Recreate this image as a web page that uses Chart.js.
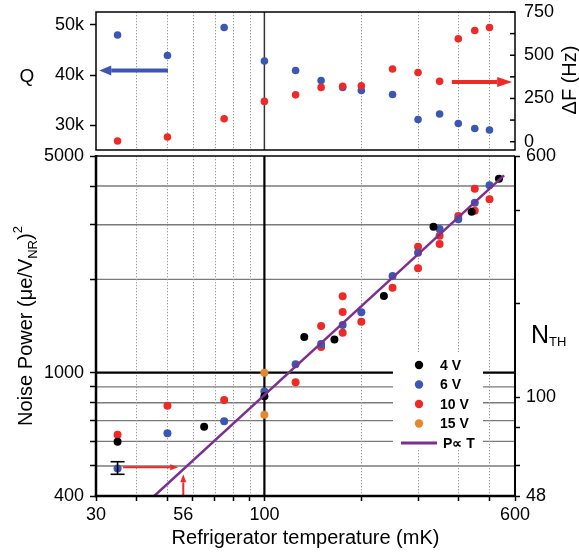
<!DOCTYPE html>
<html>
<head>
<meta charset="utf-8">
<script src="https://cdn.jsdelivr.net/npm/chart.js@4.4.0/dist/chart.umd.min.js"></script>
<style>
html,body{margin:0;padding:0;background:#fff;}
#wrap{position:relative;width:579px;height:552px;overflow:hidden;}
canvas{position:absolute;left:0;top:0;}
</style>
</head>
<body>
<div id="wrap">
<canvas id="bot" width="579" height="552"></canvas>
<canvas id="top" width="579" height="160"></canvas>
</div>
<script>
// ---------------- data ----------------
// top panel: quality factor Q (left axis) and frequency shift ΔF (right axis)
const tempQ    = [35, 50, 75, 100, 125, 150, 175, 200, 250, 300, 350, 400, 450, 500];
const qualityQ = [48000, 43900, 49500, 42800, 40900, 38900, 37500, 36900, 36100, 31100, 32200, 30300, 29300, 29000];
const deltaF   = [4, 27, 133, 233, 271, 314, 321, 323, 420, 400, 349, 595, 643, 660];

// bottom panel: noise power vs refrigerator temperature
const temp4V  = [35, 65, 100, 133, 165, 235, 335, 440, 535];
const power4V = [599, 669, 839, 1303, 1280, 1766, 2957, 3305, 4224];
const temp6V  = [35, 50, 75, 100, 125, 150, 175, 200, 250, 300, 350, 400, 450, 500];
const power6V = [491, 637, 697, 869, 1064, 1237, 1424, 1565, 2050, 2437, 2905, 3125, 3533, 4021];
const temp10V  = [35, 50, 75, 125, 150, 150, 175, 175, 175, 200, 250, 300, 300, 350, 350, 400, 450, 450, 500];
const power10V = [630, 782, 816, 931, 1210, 1414, 1346, 1569, 1764, 1460, 1880, 2548, 2170, 2765, 2600, 3200, 3330, 3920, 3624];
const temp15V  = [100, 100];
const power15V = [1000, 732];
const fitT = [45.5, 555];
const fitP = [400, 4330];
const errT = [35];
const errLow = [470];
const errHigh = [516];

// annotation arrows (data coordinates)
const qArrowT = [50.2, 30.7];   const qArrowQ = [40900, 40900];
const fArrowT = [382, 588];     const fArrowF = [345, 345];
const hArrowT = [36.4, 54];     const hArrowP = [495, 495];
const vArrowT = [56, 56];       const vArrowP = [400, 470];

// axes
const xTicks  = [30, 40, 50, 56, 60, 70, 80, 90, 100, 200, 300, 400, 500, 600];
const xLabels = [30, 56, 100, 600];
const xNoMark = [56];
const pTicks  = [400, 500, 600, 700, 800, 900, 1000, 2000, 3000, 4000, 5000];
const pLabels = [400, 1000, 5000];
const nTicks  = [48, 60, 80, 100, 200, 400, 600];
const nLabels = [48, 100, 600];
const qTicks  = [30000, 40000, 50000];
const fTicks  = [0, 125, 250, 375, 500, 625, 750];
const fLabels = [0, 250, 500, 750];
const gridTDotted = [40, 50, 60, 70, 80, 90, 200, 300, 400, 500];
const gridTMain   = [100];
const gridPLines  = [500, 600, 700, 800, 900, 2000, 3000, 4000];
const gridPMain   = [1000];

// ---------------- styles ----------------
const FONT = '"Liberation Sans", Arial, Helvetica, sans-serif';
const BLUE = '#3b57b3', RED = '#ee2a26', BLACK = '#000000', ORANGE = '#e6872f', PURPLE = '#7d2f90';

Chart.defaults.font.family = FONT;
Chart.defaults.color = '#000';
Chart.defaults.animation = false;

const pts = (xs, ys) => xs.map((x, i) => ({x: x, y: ys[i]}));
function seg(ctx, x1, y1, x2, y2) { ctx.beginPath(); ctx.moveTo(x1, y1); ctx.lineTo(x2, y2); ctx.stroke(); }
function noPad(s) { s.paddingTop = 0; s.paddingBottom = 0; s.paddingLeft = 0; s.paddingRight = 0; }
function arrow(ctx, x1, y1, x2, y2, lw, headLen, headHalf, color) {
  const ang = Math.atan2(y2 - y1, x2 - x1);
  const bx = x2 - headLen * Math.cos(ang), by = y2 - headLen * Math.sin(ang);
  ctx.save();
  ctx.strokeStyle = color; ctx.fillStyle = color; ctx.lineWidth = lw; ctx.lineCap = 'butt';
  seg(ctx, x1, y1, bx, by);
  ctx.beginPath();
  ctx.moveTo(x2, y2);
  ctx.lineTo(bx - headHalf * Math.sin(ang), by + headHalf * Math.cos(ang));
  ctx.lineTo(bx + headHalf * Math.sin(ang), by - headHalf * Math.cos(ang));
  ctx.closePath(); ctx.fill();
  ctx.restore();
}
function rotatedText(ctx, bx, cy, parts) {
  ctx.save();
  ctx.translate(bx, cy); ctx.rotate(-Math.PI / 2);
  ctx.textAlign = 'left'; ctx.textBaseline = 'alphabetic'; ctx.fillStyle = '#000';
  let total = 0;
  parts.forEach(p => { ctx.font = p.size + 'px ' + FONT; p.w = ctx.measureText(p.text).width; total += p.w; });
  let x = -total / 2;
  parts.forEach(p => { ctx.font = p.size + 'px ' + FONT; ctx.fillText(p.text, x, p.dy); x += p.w; });
  ctx.restore();
}
function vGrid(ctx, a, xScale) {
  ctx.save();
  ctx.strokeStyle = '#9a9a9a'; ctx.lineWidth = 1; ctx.setLineDash([1.3, 1.7]);
  gridTDotted.forEach(t => { const px = Math.round(xScale.getPixelForValue(t)) + 0.5; seg(ctx, px, a.top, px, a.bottom); });
  ctx.restore();
}

// ---------------- top panel ----------------
const topDecor = {
  id: 'topDecor',
  beforeDatasetsDraw(chart) {
    const {ctx, chartArea: a, scales: {x}} = chart;
    vGrid(ctx, a, x);
    ctx.save();
    ctx.strokeStyle = '#333'; ctx.lineWidth = 1.5;
    gridTMain.forEach(t => { const px = x.getPixelForValue(t); seg(ctx, px, a.top, px, a.bottom); });
    ctx.restore();
  },
  afterDatasetsDraw(chart) {
    const {ctx, chartArea: a, scales: {x, yQ, yF}} = chart;
    arrow(ctx, x.getPixelForValue(qArrowT[0]), yQ.getPixelForValue(qArrowQ[0]),
               x.getPixelForValue(qArrowT[1]), yQ.getPixelForValue(qArrowQ[1]), 4, 12, 5, BLUE);
    arrow(ctx, x.getPixelForValue(fArrowT[0]), yF.getPixelForValue(fArrowF[0]),
               x.getPixelForValue(fArrowT[1]), yF.getPixelForValue(fArrowF[1]), 4, 15, 5, RED);
    ctx.save();
    ctx.strokeStyle = '#000'; ctx.lineWidth = 1.5;
    fTicks.forEach(v => { const py = yF.getPixelForValue(v); seg(ctx, a.right - 5, py, a.right, py); });
    ctx.strokeRect(a.left, a.top, a.right - a.left, a.bottom - a.top);
    ctx.fillStyle = '#000'; ctx.font = '19px ' + FONT; ctx.textAlign = 'center'; ctx.textBaseline = 'alphabetic';
    ctx.fillText('Q', 27, 82);
    ctx.restore();
    rotatedText(ctx, 576, 80, [{text: 'ΔF (Hz)', size: 20, dy: 0}]);
  }
};

new Chart(document.getElementById('top'), {
  type: 'scatter',
  data: {
    datasets: [
      {label: 'ΔF', data: pts(tempQ, deltaF), yAxisID: 'yF', backgroundColor: RED, borderWidth: 0, pointRadius: 3.8, order: 0},
      {label: 'Q', data: pts(tempQ, qualityQ), yAxisID: 'yQ', backgroundColor: BLUE, borderWidth: 0, pointRadius: 3.8, order: 1}
    ]
  },
  options: {
    responsive: false, animation: false,
    layout: {padding: {top: 12, bottom: 10, left: 0, right: 0}},
    plugins: {legend: {display: false}, tooltip: {enabled: false}},
    scales: {
      x: {type: 'logarithmic', min: 30, max: 600, display: false},
      yQ: {
        type: 'linear', position: 'left', min: 25000, max: 52600,
        afterBuildTicks: s => { s.ticks = qTicks.map(v => ({value: v})); },
        afterFit: s => { s.width = 96; noPad(s); },
        ticks: {autoSkip: false, padding: 6, font: {size: 18}, color: '#000', callback: v => (v / 1000) + 'k'},
        grid: {drawOnChartArea: false, drawTicks: true, tickLength: 6, tickWidth: 1.5, tickColor: '#000'},
        border: {display: false}
      },
      yF: {
        type: 'linear', position: 'right', min: -48, max: 750,
        afterBuildTicks: s => { s.ticks = fTicks.map(v => ({value: v})); },
        afterFit: s => { s.width = 64; noPad(s); },
        ticks: {autoSkip: false, padding: 9, font: {size: 18}, color: '#000', callback: v => fLabels.includes(v) ? String(v) : ''},
        grid: {drawOnChartArea: false, drawTicks: false},
        border: {display: false}
      }
    }
  },
  plugins: [topDecor]
});

// ---------------- bottom panel ----------------
const botDecor = {
  id: 'botDecor',
  beforeDatasetsDraw(chart) {
    const {ctx, chartArea: a, scales: {x, y}} = chart;
    ctx.save();
    ctx.strokeStyle = '#7a7a7a'; ctx.lineWidth = 1.4;
    gridPLines.forEach(p => { const py = y.getPixelForValue(p); seg(ctx, a.left, py, a.right, py); });
    ctx.restore();
    vGrid(ctx, a, x);
    ctx.save();
    ctx.strokeStyle = '#000'; ctx.lineWidth = 2.2;
    gridPMain.forEach(p => { const py = y.getPixelForValue(p); seg(ctx, a.left, py, a.right, py); });
    gridTMain.forEach(t => { const px = x.getPixelForValue(t); seg(ctx, px, a.top, px, a.bottom); });
    // legend background
    ctx.fillStyle = '#fff';
    ctx.fillRect(a.right - 122, 352, 90, 96);
    ctx.restore();
  },
  afterDatasetsDraw(chart) {
    const {ctx, chartArea: a, scales: {x, y}} = chart;
    ctx.save();
    // error bar
    ctx.strokeStyle = '#000'; ctx.lineWidth = 1.6;
    errT.forEach((t, i) => {
      const px = x.getPixelForValue(t), y1 = y.getPixelForValue(errLow[i]), y2 = y.getPixelForValue(errHigh[i]);
      seg(ctx, px, y1, px, y2); seg(ctx, px - 7, y1, px + 7, y1); seg(ctx, px - 7, y2, px + 7, y2);
    });
    ctx.restore();
    arrow(ctx, x.getPixelForValue(hArrowT[0]), y.getPixelForValue(hArrowP[0]),
               x.getPixelForValue(hArrowT[1]), y.getPixelForValue(hArrowP[1]), 2, 8, 3, RED);
    arrow(ctx, x.getPixelForValue(vArrowT[0]), y.getPixelForValue(vArrowP[0]),
               x.getPixelForValue(vArrowT[1]), y.getPixelForValue(vArrowP[1]), 2, 8, 3, RED);
    // legend
    ctx.save();
    const lx = a.right - 96, tx = a.right - 75;
    chart.data.datasets.forEach((ds, i) => {
      const ly = 365 + i * 19.5;
      if (ds.showLine) {
        ctx.strokeStyle = ds.borderColor; ctx.lineWidth = 3;
        seg(ctx, lx - 18, ly, lx + 18, ly);
      } else {
        ctx.fillStyle = ds.backgroundColor;
        ctx.beginPath(); ctx.arc(lx, ly, 4.2, 0, Math.PI * 2); ctx.fill();
      }
      ctx.fillStyle = '#000'; ctx.font = 'bold 14px ' + FONT; ctx.textAlign = 'left'; ctx.textBaseline = 'middle';
      ctx.fillText(ds.label, ds.showLine ? tx + 3 : tx, ly + 1);
    });
    // frame
    ctx.strokeStyle = '#000'; ctx.lineWidth = 1.6;
    seg(ctx, a.left, a.top, a.right, a.top);
    ctx.lineWidth = 2;
    seg(ctx, a.right, a.top, a.right, a.bottom);
    ctx.lineWidth = 2.5;
    seg(ctx, a.left, a.top - 1, a.left, a.bottom + 1.2);
    seg(ctx, a.left - 1.2, a.bottom, a.right + 1, a.bottom);
    // titles
    ctx.fillStyle = '#000'; ctx.font = '20px ' + FONT; ctx.textAlign = 'center'; ctx.textBaseline = 'alphabetic';
    ctx.fillText('Refrigerator temperature (mK)', (a.left + a.right) / 2, 544);
    ctx.textAlign = 'left';
    ctx.font = '25px ' + FONT; ctx.fillText('N', 531, 343);
    ctx.font = '13px ' + FONT; ctx.fillText('TH', 549, 346);
    ctx.restore();
    rotatedText(ctx, 32, (a.top + a.bottom) / 2, [
      {text: 'Noise Power (μe/V', size: 20, dy: 0},
      {text: 'NR', size: 13, dy: 5},
      {text: ')', size: 20, dy: 0},
      {text: '2', size: 13, dy: -10}
    ]);
  }
};

new Chart(document.getElementById('bot'), {
  type: 'scatter',
  data: {
    datasets: [
      {label: '4 V', data: pts(temp4V, power4V), yAxisID: 'y', backgroundColor: BLACK, borderWidth: 0, pointRadius: 4, order: 2},
      {label: '6 V', data: pts(temp6V, power6V), yAxisID: 'y', backgroundColor: BLUE, borderWidth: 0, pointRadius: 4, order: 3},
      {label: '10 V', data: pts(temp10V, power10V), yAxisID: 'y', backgroundColor: RED, borderWidth: 0, pointRadius: 4, order: 4},
      {label: '15 V', data: pts(temp15V, power15V), yAxisID: 'y', backgroundColor: ORANGE, borderWidth: 0, pointRadius: 4, order: 1},
      {label: 'P∝ T', data: pts(fitT, fitP), yAxisID: 'y', showLine: true, borderColor: PURPLE, backgroundColor: PURPLE, borderWidth: 2.5, pointRadius: 0, order: 0}
    ]
  },
  options: {
    responsive: false, animation: false,
    layout: {padding: {top: 156, bottom: 0, left: 0, right: 0}},
    plugins: {legend: {display: false}, tooltip: {enabled: false}},
    scales: {
      x: {
        type: 'logarithmic', position: 'bottom', min: 30, max: 600,
        afterBuildTicks: s => { s.ticks = xTicks.map(v => ({value: v})); },
        afterFit: s => { s.height = 56; noPad(s); },
        ticks: {autoSkip: false, maxRotation: 0, minRotation: 0, padding: 3, font: {size: 18}, color: '#000',
                callback: v => xLabels.includes(v) ? String(v) : ''},
        grid: {drawOnChartArea: false, drawTicks: true, tickLength: 5, tickWidth: 1.5,
               tickColor: c => (c.tick && xNoMark.includes(c.tick.value)) ? 'rgba(0,0,0,0)' : '#000'},
        border: {display: false}
      },
      y: {
        type: 'logarithmic', position: 'left', min: 400, max: 5000,
        afterBuildTicks: s => { s.ticks = pTicks.map(v => ({value: v})); },
        afterFit: s => { s.width = 96; noPad(s); },
        ticks: {autoSkip: false, padding: 6, font: {size: 18}, color: '#000', callback: v => pLabels.includes(v) ? String(v) : ''},
        grid: {drawOnChartArea: false, drawTicks: true, tickLength: 6, tickWidth: 1.5, tickColor: '#000'},
        border: {display: false}
      },
      yN: {
        type: 'logarithmic', position: 'right', min: 48, max: 600,
        afterBuildTicks: s => { s.ticks = nTicks.map(v => ({value: v})); },
        afterFit: s => { s.width = 64; noPad(s); },
        ticks: {autoSkip: false, padding: 6, font: {size: 18}, color: '#000', callback: v => nLabels.includes(v) ? String(v) : ''},
        grid: {drawOnChartArea: false, drawTicks: true, tickLength: 5, tickWidth: 1.5, tickColor: '#000'},
        border: {display: false}
      }
    }
  },
  plugins: [botDecor]
});
</script>
</body>
</html>
